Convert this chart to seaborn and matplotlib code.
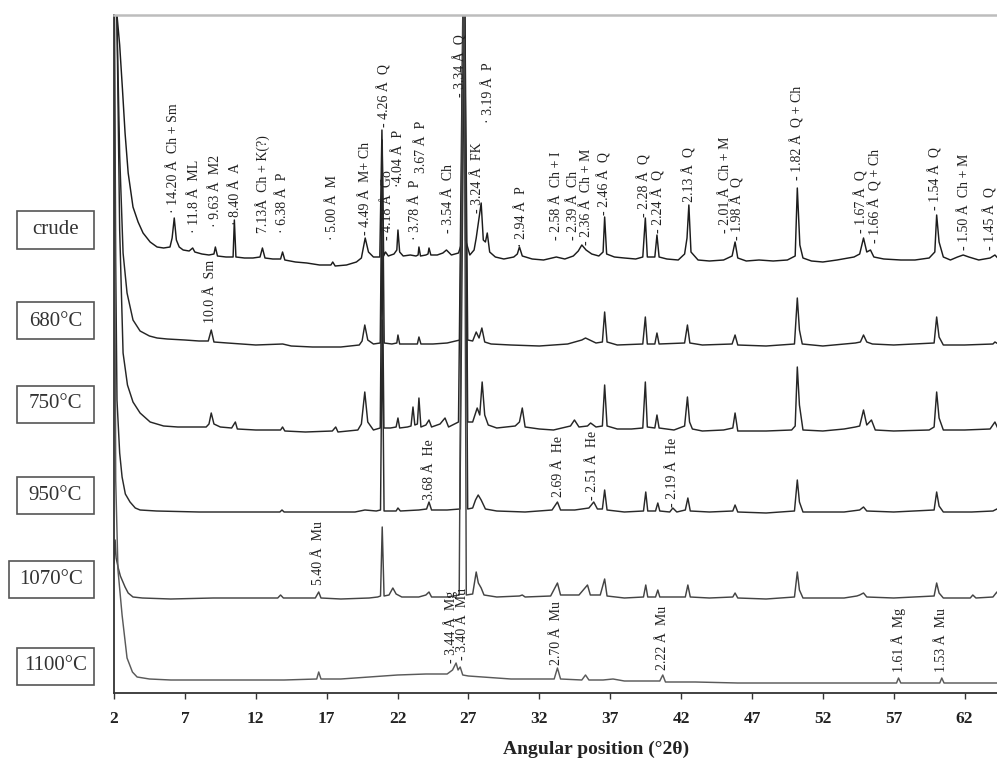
import numpy as np
import pandas as pd
import matplotlib
matplotlib.use("Agg")
import matplotlib.pyplot as plt
from matplotlib.patches import Rectangle
import seaborn as sns

sns.set_style("white")
plt.rcParams['font.family'] = ['Liberation Serif', 'DejaVu Serif']

# ---------------- data: (2theta, relative intensity) vertices ----------------
crude = [(2.00, 300), (2.21, 245), (2.40, 215), (2.60, 170), (2.78, 127), (3.00, 87), (3.34, 53), (3.70, 38),
         (4.05, 27), (4.55, 18), (5.04, 13), (5.50, 12), (5.95, 13), (6.10, 22), (6.25, 42), (6.40, 20), (6.60, 13),
         (6.88, 10), (7.30, 9), (7.55, 12), (7.70, 8), (8.20, 6), (8.70, 5), (9.05, 6), (9.15, 13), (9.30, 4),
         (9.90, 3), (10.40, 3), (10.49, 40), (10.60, 3), (11.20, 2), (11.80, 2), (12.30, 3), (12.47, 12), (12.65, 2),
         (13.20, 1), (13.75, 1), (13.89, 8), (14.05, 0), (14.80, -2), (15.60, -3), (16.50, -5), (17.30, -5),
         (17.43, -2), (17.60, -6), (18.40, -5), (19.10, -2), (19.45, 2), (19.72, 22), (19.95, 8), (20.30, 3),
         (20.75, 3), (20.90, 130), (21.02, 4), (21.15, 8), (21.35, 4), (21.75, 6), (21.95, 10), (22.03, 30),
         (22.15, 8), (22.40, 4), (22.90, 5), (23.30, 4), (23.45, 5), (23.51, 13), (23.62, 4), (24.00, 5), (24.15, 6),
         (24.22, 12), (24.35, 5), (24.80, 5), (25.20, 7), (25.45, 10), (25.80, 5), (26.30, 7), (26.55, 18),
         (26.66, 420), (26.80, 20), (27.10, 5), (27.40, 10), (27.55, 22), (27.90, 57), (28.05, 20), (28.20, 18),
         (28.33, 27), (28.50, 8), (28.90, 3), (29.50, 1), (30.20, 3), (30.45, 6), (30.60, 13), (30.80, 4),
         (31.50, 1), (32.30, 0), (33.20, 3), (33.80, 1), (34.40, 4), (34.75, 9), (35.00, 15), (35.30, 10),
         (35.70, 6), (36.20, 4), (36.50, 8), (36.61, 43), (36.75, 6), (37.30, 3), (38.00, 2), (38.80, 1),
         (39.30, 3), (39.48, 42), (39.62, 3), (40.15, 3), (40.30, 25), (40.45, 3), (41.00, 1), (41.80, 0),
         (42.25, 6), (42.42, 22), (42.55, 55), (42.70, 8), (43.20, 0), (44.00, -1), (45.00, 0), (45.60, 4),
         (45.81, 18), (46.00, 2), (46.60, -1), (47.50, 0), (48.50, -1), (49.50, 0), (50.05, 4), (50.20, 72),
         (50.38, 15), (50.60, 2), (51.20, -1), (52.00, -2), (53.00, 0), (54.20, 3), (54.60, 6), (54.87, 22),
         (55.10, 8), (55.36, 10), (55.60, 3), (56.30, 1), (57.50, 0), (58.50, 0), (59.50, 2), (59.90, 8),
         (60.03, 45), (60.20, 18), (60.50, 3), (61.00, 0), (61.50, 3), (61.90, 5), (62.30, 3), (63.00, 0),
         (63.80, 2), (64.14, 5), (64.40, 1), (65.50, 0), (70.00, 0)]

t680 = [(2.00, 400), (2.20, 330), (2.40, 190), (2.64, 92), (2.92, 52), (3.34, 25), (3.84, 14), (4.50, 9),
        (5.04, 7), (5.75, 6), (7.00, 5), (8.00, 4), (8.65, 4), (8.86, 15), (9.05, 3), (10.00, 2), (11.00, 1),
        (12.00, 0), (13.90, 1), (14.50, -1), (16.00, -2), (18.00, -2), (19.30, 0), (19.50, 4), (19.69, 20),
        (19.90, 5), (20.30, 1), (20.78, 2), (20.92, 205), (21.06, 2), (21.60, 1), (21.95, 2), (22.03, 10),
        (22.15, 1), (23.00, 1), (23.40, 1), (23.51, 8), (23.65, 1), (24.50, 1), (25.50, 2), (26.40, 5),
        (26.70, 420), (26.95, 5), (27.30, 4), (27.55, 13), (27.75, 7), (27.95, 17), (28.15, 3), (28.60, 1),
        (30.00, 0), (32.00, -1), (34.00, 1), (35.00, 5), (35.26, 7), (36.00, 2), (36.45, 3), (36.61, 33),
        (36.78, 3), (37.50, 0), (39.30, 1), (39.48, 28), (39.62, 1), (40.15, 1), (40.30, 12), (40.45, 1),
        (42.25, 2), (42.45, 20), (42.62, 2), (43.50, 0), (45.60, 1), (45.81, 10), (46.00, 0), (48.00, -1),
        (50.00, 1), (50.20, 47), (50.35, 15), (50.55, 1), (52.00, -1), (54.30, 2), (54.65, 3), (54.87, 10),
        (55.10, 3), (55.50, 1), (57.00, 0), (59.85, 2), (60.03, 28), (60.20, 8), (60.50, 0), (62.00, 0),
        (64.00, 1), (64.14, 3), (64.50, 0), (70.00, 0)]

t750 = [(2.00, 500), (2.20, 420), (2.40, 200), (2.64, 77), (2.95, 45), (3.34, 28), (3.84, 17), (4.55, 8),
        (5.50, 4), (6.50, 3), (7.50, 3), (8.50, 3), (8.70, 6), (8.86, 17), (9.05, 6), (9.50, 3), (10.30, 2),
        (10.56, 8), (10.70, 1), (12.00, 0), (13.75, 0), (13.89, 3), (14.05, -1), (15.50, -2), (17.40, -1),
        (17.64, 3), (17.80, -2), (19.20, 0), (19.45, 6), (19.69, 38), (19.90, 8), (20.30, 0), (20.78, 2),
        (20.90, 200), (21.04, 2), (21.50, 2), (21.90, 3), (22.03, 12), (22.15, 2), (22.70, 3), (22.95, 4),
        (23.09, 23), (23.22, 5), (23.40, 6), (23.51, 32), (23.65, 3), (24.00, 5), (24.22, 10), (24.40, 3),
        (25.00, 6), (25.35, 12), (25.60, 3), (26.30, 8), (26.68, 520), (26.95, 8), (27.30, 8), (27.62, 22),
        (27.80, 15), (27.97, 48), (28.15, 15), (28.40, 5), (29.00, 2), (30.30, 4), (30.60, 8), (30.80, 22),
        (31.00, 3), (32.00, 1), (33.00, 0), (34.20, 4), (34.48, 10), (34.80, 3), (35.40, 4), (35.62, 7),
        (36.00, 3), (36.45, 4), (36.61, 45), (36.78, 4), (37.50, 1), (38.50, 1), (39.30, 2), (39.48, 48),
        (39.62, 3), (40.15, 2), (40.30, 15), (40.45, 2), (41.50, 0), (42.25, 4), (42.45, 33), (42.60, 8),
        (42.80, 1), (43.50, -1), (45.00, 0), (45.65, 2), (45.81, 17), (46.00, -1), (48.00, -1), (49.80, 0),
        (50.05, 4), (50.20, 63), (50.35, 25), (50.60, 0), (52.00, -1), (53.50, 1), (54.30, 3), (54.60, 4),
        (54.87, 20), (55.10, 5), (55.43, 10), (55.70, 0), (57.00, -1), (59.50, 0), (59.85, 3), (60.03, 38),
        (60.20, 12), (60.50, 0), (62.00, 0), (63.80, 1), (64.14, 8), (64.40, 0), (70.00, 0)]

t950 = [(2.00, 600), (2.12, 250), (2.21, 112), (2.40, 59), (2.57, 35), (2.80, 18), (3.13, 10), (3.50, 4),
        (3.84, 2), (5.00, 1), (8.00, 0), (11.00, 0), (13.70, 0), (13.85, 2), (14.00, 0), (16.00, 0), (19.00, 0),
        (19.70, 2), (20.50, 1), (20.80, 2), (20.92, 192), (21.05, 1), (21.90, 1), (22.03, 4), (22.20, 1),
        (23.50, 2), (24.05, 3), (24.22, 10), (24.40, 2), (25.50, 2), (26.40, 3), (26.72, 510), (26.95, 3),
        (27.30, 4), (27.50, 12), (27.69, 17), (27.90, 12), (28.20, 3), (29.00, 1), (31.00, 0), (32.90, 2),
        (33.28, 10), (33.50, 2), (34.50, 2), (35.50, 4), (35.84, 10), (36.10, 3), (36.45, 3), (36.61, 22),
        (36.78, 2), (38.00, 0), (39.35, 1), (39.51, 20), (39.65, 1), (40.20, 1), (40.36, 9), (40.50, 1),
        (41.20, 0), (41.42, 4), (41.70, 0), (42.30, 2), (42.48, 14), (42.65, 1), (44.00, 0), (45.65, 1),
        (45.81, 7), (46.00, 0), (48.00, -1), (50.00, 1), (50.20, 32), (50.35, 10), (50.60, 0), (53.50, 0),
        (54.60, 2), (54.87, 5), (55.10, 1), (57.00, 0), (59.85, 2), (60.03, 20), (60.20, 6), (60.50, 0),
        (62.50, 0), (64.00, 1), (64.28, 3), (64.50, 0), (70.00, 0)]

t1070 = [(2.00, 35), (2.08, 58), (2.15, 40), (2.30, 30), (2.45, 22), (2.78, 11), (3.00, 5), (3.34, 1), (4.00, 0),
         (6.00, -1), (9.00, 0), (11.00, 0), (13.55, 0), (13.75, 3), (13.95, 0), (16.20, 0), (16.44, 6),
         (16.60, 0), (18.00, -1), (20.00, 0), (20.60, 1), (20.80, 2), (20.92, 71), (21.05, 2), (21.40, 3),
         (21.67, 10), (21.90, 4), (22.30, 1), (23.50, 1), (24.00, 3), (24.22, 6), (24.40, 1), (25.50, 1),
         (26.35, 3), (26.62, 600), (26.70, 600), (26.85, 3), (27.30, 4), (27.55, 26), (27.70, 15), (27.90, 10),
         (28.10, 3), (29.00, 1), (30.60, 2), (30.80, 3), (31.00, 1), (32.80, 2), (33.28, 15), (33.50, 3),
         (34.80, 3), (35.40, 13), (35.60, 3), (36.30, 3), (36.61, 19), (36.78, 2), (38.00, 0), (39.35, 1),
         (39.51, 13), (39.65, 1), (40.20, 1), (40.36, 8), (40.50, 1), (42.30, 1), (42.48, 13), (42.65, 1),
         (44.00, 0), (45.65, 1), (45.81, 5), (46.00, 0), (48.00, -1), (50.00, 1), (50.20, 26), (50.35, 8),
         (50.60, 0), (53.50, 0), (54.40, 2), (54.60, 3), (54.87, 5), (55.10, 1), (57.00, 0), (59.85, 2),
         (60.03, 15), (60.20, 5), (60.50, 0), (62.40, 0), (62.58, 3), (62.80, 0), (64.00, 1), (64.28, 6),
         (64.50, 0), (70.00, 0)]

t1100 = [(2.00, 700), (2.12, 200), (2.28, 110), (2.57, 65), (2.92, 22), (3.30, 8), (3.63, 3), (4.50, 1),
         (6.00, 0), (9.00, 0), (12.00, 0), (14.00, 0), (16.30, 1), (16.44, 8), (16.60, 1), (18.00, 1),
         (20.00, 3), (22.00, 5), (24.00, 6), (25.50, 6), (25.88, 10), (26.13, 17), (26.27, 10), (26.42, 13),
         (26.60, 5), (27.00, 4), (28.00, 3), (30.00, 1), (32.00, 1), (33.05, 1), (33.28, 12), (33.50, 1),
         (35.00, 0), (35.26, 5), (35.50, 0), (36.50, 0), (37.20, 1), (38.00, -1), (40.50, -1), (40.71, 5),
         (40.90, -2), (43.00, -2), (46.00, -3), (50.00, -3), (55.00, -3), (57.20, -3), (57.34, 2), (57.50, -3),
         (60.25, -3), (60.39, 2), (60.55, -3), (70.00, -3)]

samples = ["crude", "680°C", "750°C", "950°C", "1070°C", "1100°C"]
patterns = [crude, t680, t750, t950, t1070, t1100]

# peak annotations: text, 2theta position
ann_text = ["· 14.20 Å  Ch + Sm", "· 11.8 Å  ML", "· 9.63 Å  M2", "· 8.40 Å  A", "7.13Å  Ch + K(?)",
            "· 6.38 Å  P", "· 5.00 Å  M", "- 4.49 Å  M+ Ch", "- 4.26 Å  Q", "- 4.18 Å  Go", "·4.04 Å  P",
            "· 3.78 Å  P", "3.67 Å  P", "- 3.54 Å  Ch", "- 3.34 Å  Q", "- 3.24 Å  FK", "· 3.19 Å  P",
            "· 2.94 Å  P", "- 2.58 Å  Ch + I", "- 2.39 Å  Ch", "- 2.36 Å  Ch + M", "- 2.46 Å  Q",
            "- 2.28 Å  Q", "- 2.24 Å  Q", "- 2.13 Å  Q", "- 2.01 Å  Ch + M", "- 1.98 Å  Q",
            "- 1.82 Å  Q + Ch", "- 1.67 Å  Q", "- 1.66 Å  Q + Ch", "- 1.54 Å  Q", "- 1.50 Å  Ch + M",
            "- 1.45 Å  Q", "10.0 Å  Sm", "3.68 Å  He", "2.69 Å  He", "- 2.51 Å  He", "- 2.19 Å  He",
            "5.40 Å  Mu", "- 3.44 Å  Mg", "- 3.40 Å  Mu", "2.70 Å  Mu", "2.22 Å  Mu", "1.61 Å  Mg", "1.53 Å  Mu"]
ann_tt = [6.18, 7.66, 9.15, 10.56, 12.47, 13.89, 17.43, 19.76, 21.04, 21.32, 22.10, 23.30, 23.66, 25.57,
          26.42, 27.62, 28.40, 30.73, 33.21, 34.40, 35.30, 36.61, 39.38, 40.40, 42.62, 45.10, 45.95, 50.20,
          54.72, 55.72, 59.96, 62.01, 63.85, 8.79, 24.22, 33.35, 35.76, 41.42, 16.44, 25.71, 26.56, 33.21,
          40.71, 57.34, 60.39]
xticks = [2, 7, 12, 17, 22, 27, 32, 37, 42, 47, 52, 57, 62]

# ---------------- layout (not data) ----------------
offsets = [433, 348, 263, 181, 95, 13]
colors = ["#1c1c1c", "#262626", "#262626", "#2a2a2a", "#444444", "#5a5a5a"]
ann_y = [480, 460, 466, 468, 460, 460, 453, 458, 566, 453, 506, 453, 520, 460, 596, 480, 570, 446, 453, 453,
         448, 478, 476, 460, 483, 460, 453, 513, 460, 450, 483, 443, 443, 370, 193, 196, 193, 186, 108, 30, 33,
         28, 23, 21, 21]
box_cy = [230, 321, 404, 495, 579, 666]   # pixel rows of the sample boxes

rows = []
for name, pts, off in zip(samples, patterns, offsets):
    for tt, inten in pts:
        rows.append({"sample": name, "two_theta": tt, "y": inten + off})
df = pd.DataFrame(rows)

W, H = 997, 767
fig = plt.figure(figsize=(W / 100, H / 100), dpi=100)
ax = fig.add_axes([114 / W, (H - 693) / H, 964 / W, 678 / H])

sns.lineplot(data=df, x="two_theta", y="y", hue="sample", hue_order=samples,
             palette=dict(zip(samples, colors)), sort=False, estimator=None,
             legend=False, linewidth=1.05, ax=ax)

ax.set_xlim(2, 70)
ax.set_ylim(0, 678)
ax.set_xticks(xticks)
ax.set_xticklabels([str(t) for t in xticks], fontsize=12.5, fontweight="bold", color="#222222")
ax.set_yticks([])
ax.set_ylabel("")
ax.set_xlabel("Angular position (°2θ)", fontsize=14, fontweight="bold", color="#222222", labelpad=10)
ax.tick_params(axis="x", direction="out", length=4, width=1, color="#333333", pad=9, bottom=True)
for s in ["left", "bottom"]:
    ax.spines[s].set_color("#333333")
    ax.spines[s].set_linewidth(1.3)
ax.spines["top"].set_color("#bdbdbd")
ax.spines["top"].set_linewidth(1.8)
ax.spines["right"].set_visible(False)

for txt, tt, yy in zip(ann_text, ann_tt, ann_y):
    ax.text(tt, yy, txt, rotation=90, ha="center", va="bottom", fontsize=10, color="#222222")

for name, cy in zip(samples, box_cy):
    x0 = 9 if name == "1070°C" else 17
    rect = Rectangle((x0 / W, (H - cy - 18.5) / H), (94 - x0) / W, 37 / H, transform=fig.transFigure,
                     fill=False, edgecolor="#555555", linewidth=1.2)
    fig.add_artist(rect)
    fig.text(((x0 + 94) / 2) / W, (H - cy) / H, name, ha="center", va="center", fontsize=15,
             color="#333333")

fig.savefig("out.png", dpi=100)
